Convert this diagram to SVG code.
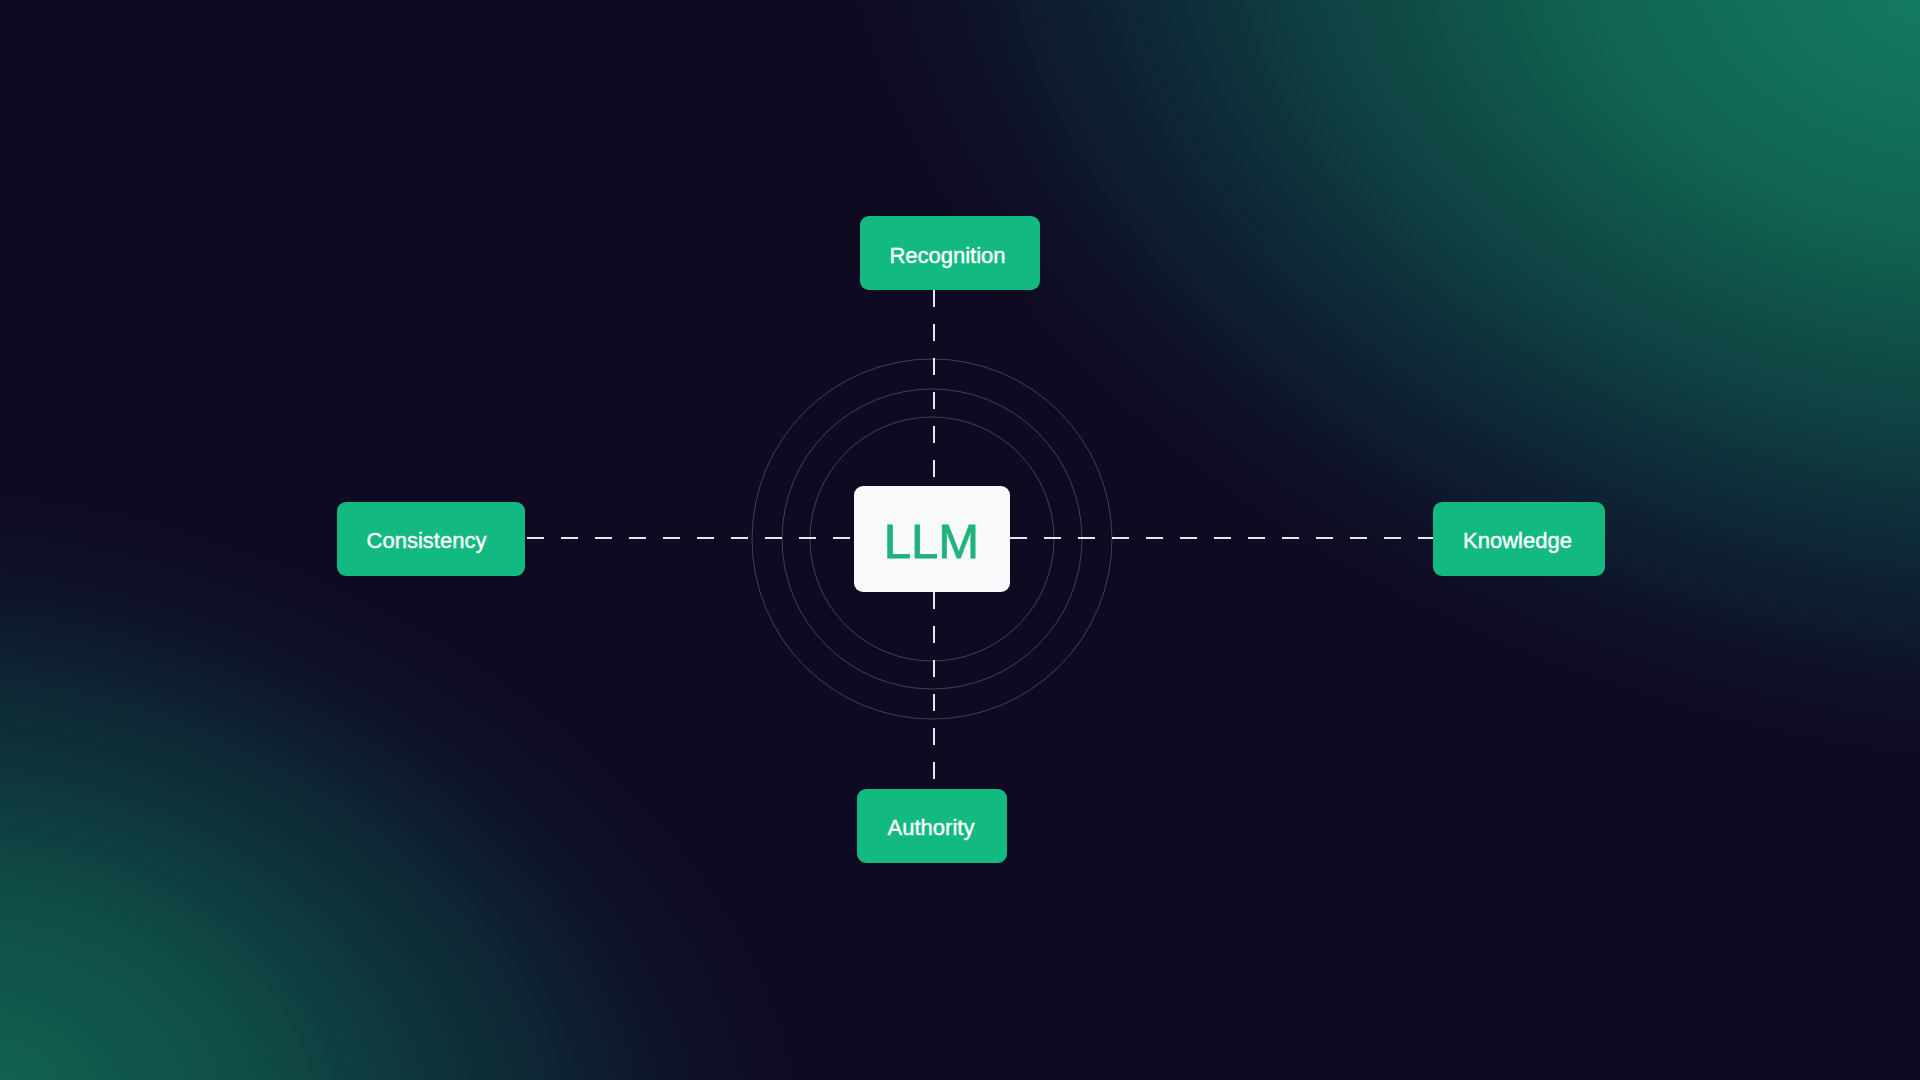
<svg xmlns="http://www.w3.org/2000/svg" width="1920" height="1080" viewBox="0 0 1920 1080">
  <defs>
    <radialGradient id="glowTR" gradientUnits="userSpaceOnUse" cx="0" cy="0" r="1" gradientTransform="translate(1920 0) rotate(14) scale(1150 780)">
      <stop offset="0" stop-color="#137a60" stop-opacity="1"/>
      <stop offset="0.3" stop-color="#10634f" stop-opacity="1"/>
      <stop offset="0.55" stop-color="#0f4646" stop-opacity="0.9"/>
      <stop offset="0.8" stop-color="#0e2434" stop-opacity="0.65"/>
      <stop offset="1" stop-color="#0e0a21" stop-opacity="0"/>
    </radialGradient>
    <radialGradient id="glowBL" gradientUnits="userSpaceOnUse" cx="0" cy="0" r="1" gradientTransform="translate(0 1080) rotate(14) scale(880 620)">
      <stop offset="0" stop-color="#12614f" stop-opacity="1"/>
      <stop offset="0.3" stop-color="#0f5049" stop-opacity="0.95"/>
      <stop offset="0.65" stop-color="#0e2e38" stop-opacity="0.75"/>
      <stop offset="1" stop-color="#0e0a21" stop-opacity="0"/>
    </radialGradient>
    <style>
      .node rect.pill { fill: #12b981; }
      .node text { font-family: "Liberation Sans", Arial, sans-serif; font-size: 22px; fill: #ffffff; stroke: #ffffff; stroke-width: 0.4; text-anchor: middle; }
      .ring { fill: none; stroke: #ffffff; stroke-opacity: 0.22; stroke-width: 1; }
      .dash { stroke: #e6e6ee; stroke-width: 2; stroke-dasharray: 17 17; fill: none; }
    </style>
  </defs>
  <rect x="0" y="0" width="1920" height="1080" fill="#0e0a21"/>
  <rect x="0" y="0" width="1920" height="1080" fill="url(#glowTR)"/>
  <rect x="0" y="0" width="1920" height="1080" fill="url(#glowBL)"/>

  <g id="rings">
    <circle class="ring" cx="932" cy="539" r="180"/>
    <circle class="ring" cx="932" cy="539" r="150"/>
    <circle class="ring" cx="932" cy="539" r="122"/>
  </g>

  <g id="connectors">
    <line class="dash" x1="934" y1="290" x2="934" y2="486"/>
    <line class="dash" x1="934" y1="592" x2="934" y2="789"/>
    <line class="dash" x1="527" y1="538" x2="854" y2="538"/>
    <line class="dash" x1="1010" y1="538" x2="1433" y2="538"/>
  </g>

  <g id="node-recognition" class="node">
    <rect class="pill" x="860" y="216" width="180" height="74" rx="9"/>
    <text x="947.5" y="263">Recognition</text>
  </g>
  <g id="node-consistency" class="node">
    <rect class="pill" x="337" y="502" width="188" height="74" rx="9"/>
    <text x="426.5" y="548">Consistency</text>
  </g>
  <g id="node-knowledge" class="node">
    <rect class="pill" x="1433" y="502" width="172" height="74" rx="9"/>
    <text x="1517.5" y="548">Knowledge</text>
  </g>
  <g id="node-authority" class="node">
    <rect class="pill" x="857" y="789" width="150" height="74" rx="9"/>
    <text x="931" y="835">Authority</text>
  </g>
  <g id="node-llm">
    <rect x="854" y="486" width="156" height="106" rx="9" fill="#f8f9fb"/>
    <text x="931.5" y="558" text-anchor="middle" font-family="Liberation Sans, Arial, sans-serif" font-size="49" fill="#1eb47c" stroke="#1eb47c" stroke-width="0.8">LLM</text>
  </g>
</svg>
